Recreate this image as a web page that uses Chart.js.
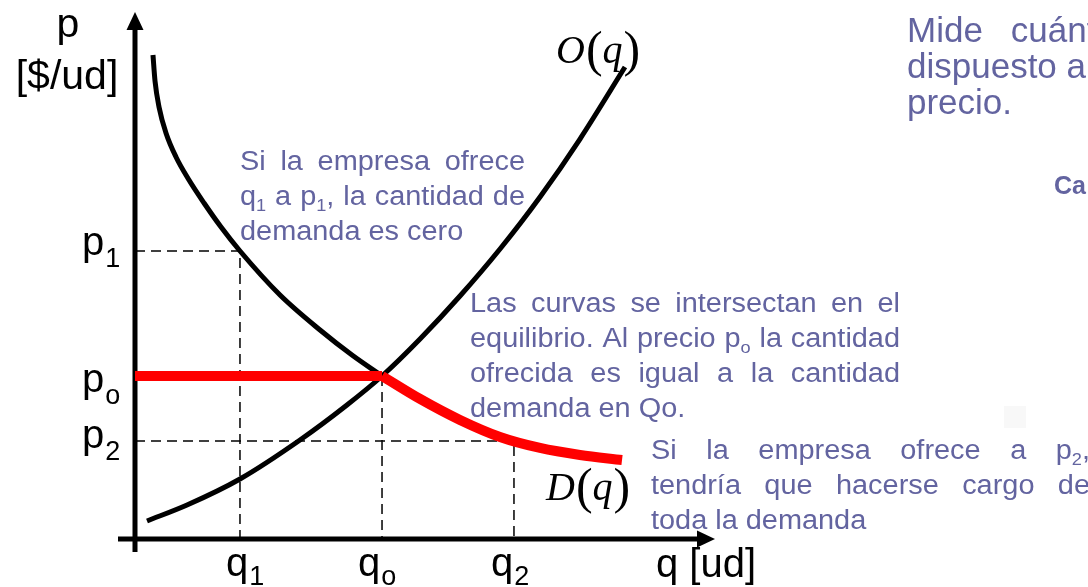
<!DOCTYPE html>
<html><head><meta charset="utf-8">
<script src="https://cdn.jsdelivr.net/npm/chart.js@4/dist/chart.umd.min.js"></script>
<style>html,body{margin:0;padding:0;background:#fff;overflow:hidden}#wrap{width:1088px;height:587px;position:relative}</style>
</head><body><div id="wrap"><canvas id="c"></canvas></div>
<script>
// ---- data (arbitrary units 0..10) ----
const levelQ = [1.810, 4.259, 6.534];        // q1, qo, q2
const levelP = [5.465, 3.093, 1.860];        // p1, po, p2
const levelQLabels = [['q','1'],['q','o'],['q','2']];
const levelPLabels = [['p','1'],['p','o'],['p','2']];
const supplyQ = [0.207,0.897,1.810,2.845,3.655,4.259,4.914,5.603,6.293,6.983,7.672,8.448];
const supplyP = [0.342,0.645,1.139,1.879,2.543,3.093,3.795,4.611,5.503,6.490,7.590,8.956];
const demandQ = [0.310,0.345,0.414,0.534,0.707,0.931,1.190,1.483,1.810,2.500,3.190,3.741,4.259];
const demandP = [9.184,8.691,8.197,7.704,7.249,6.812,6.376,5.920,5.465,4.630,3.966,3.491,3.093];
const demandRedQ = [4.259,4.914,5.603,6.293,6.983,7.672,8.397];
const demandRedP = [3.093,2.657,2.258,1.935,1.727,1.594,1.499];
const axisYLabel = ['p','[$/ud]'];
const axisXLabel = 'q [ud]';
const supplyName = 'O';
const demandName = 'D';
const note1 = ['Si la empresa ofrece','q_1 a p_1, la cantidad de','demanda es cero'];
const note2 = ['Las curvas se intersectan en el','equilibrio. Al precio p_o la cantidad','ofrecida es igual a la cantidad','demanda en Qo.'];
const note3 = ['Si la empresa ofrece a p_2,','tendría que hacerse cargo de','toda la demanda'];
const sideNote = ['Mide cuánto','dispuesto a','precio.'];
const sideHeading = 'Ca';

const pts = (xs, ys) => xs.map((x,i)=>({x, y: ys[i]}));
const SANS = '"Liberation Sans", Arial, sans-serif';
const SERIF = '"Liberation Serif", "Times New Roman", serif';
const NOTE = 'rgb(99,100,160)';

function parseWord(w){
  const runs=[]; let buf='';
  for(let i=0;i<w.length;i++){
    if(w[i]==='_'){ if(buf){runs.push({t:buf,s:false});buf='';} runs.push({t:w[i+1],s:true}); i++; }
    else buf+=w[i];
  }
  if(buf) runs.push({t:buf,s:false});
  return runs;
}
function font(size, weight){ return (weight||'normal')+' '+size+'px '+SANS; }
function runsWidth(ctx, runs, o){
  let w=0;
  for(const r of runs){ ctx.font = font(r.s?o.sub:o.size, o.weight); w += ctx.measureText(r.t).width*o.sx; }
  return w;
}
function drawLine(ctx, text, x0, base, o){
  const words = text.split(' ').map(parseWord);
  const widths = words.map(r=>runsWidth(ctx,r,o));
  ctx.font = font(o.size,o.weight);
  let gap = ctx.measureText(' ').width*o.sx;
  if(o.x1 && words.length>1){ const tot = widths.reduce((a,b)=>a+b,0); gap = (o.x1-x0-tot)/(words.length-1); }
  if(o.gap) gap = o.gap;
  let x=x0;
  ctx.fillStyle = o.color;
  words.forEach((runs)=>{
    for(const r of runs){
      ctx.font = font(r.s?o.sub:o.size, o.weight);
      ctx.save(); ctx.translate(x, base + (r.s?o.drop:0)); ctx.scale(o.sx,1);
      ctx.textBaseline='alphabetic'; ctx.textAlign='left';
      ctx.fillText(r.t,0,0); ctx.restore();
      x += ctx.measureText(r.t).width*o.sx;
    }
    x += gap;
  });
}
function drawBlock(ctx, lines, x0, x1, base0, lh, nJust, o){
  lines.forEach((l,i)=>drawLine(ctx,l,x0,base0+i*lh,Object.assign({},o,{x1: i<nJust?x1:null})));
}
function drawFunc(ctx, letter, x, base){
  ctx.fillStyle='#000'; ctx.textBaseline='alphabetic'; ctx.textAlign='left';
  ctx.font='italic 40px '+SERIF; ctx.fillText(letter,x,base); x+=ctx.measureText(letter).width+1;
  ctx.font='50px '+SERIF; ctx.fillText('(',x,base+3); x+=ctx.measureText('(').width;
  ctx.font='italic 40px '+SERIF; ctx.fillText('q',x,base); x+=ctx.measureText('q').width+1;
  ctx.font='50px '+SERIF; ctx.fillText(')',x,base+3);
}
function drawSubLabel(ctx, main, sub, x, base, drop){
  ctx.fillStyle='#000'; ctx.textBaseline='alphabetic'; ctx.textAlign='left';
  ctx.font='40px '+SANS; ctx.fillText(main,x,base); const w=ctx.measureText(main).width;
  ctx.font='27px '+SANS; ctx.fillText(sub,x+w+1,base+drop);
}

const pLabelDy = [4,16,7];
const qLabelDx = [-14,-24,-23];

const decor = {
  id:'decor',
  beforeDatasetsDraw(chart){
    const {ctx, chartArea:a, scales:{x:xs,y:ys}} = chart;
    const x0 = xs.getPixelForValue(0), y0 = ys.getPixelForValue(0);
    ctx.save();
    ctx.fillStyle='#f8f8f8'; ctx.fillRect(1004,406,22,22);
    ctx.strokeStyle='#000'; ctx.fillStyle='#000'; ctx.lineWidth=5; ctx.lineCap='butt';
    ctx.beginPath(); ctx.moveTo(x0, y0+13); ctx.lineTo(x0, a.top+14); ctx.stroke();
    ctx.beginPath(); ctx.moveTo(x0, a.top); ctx.lineTo(x0-8.5, a.top+18); ctx.lineTo(x0+8.5, a.top+18); ctx.closePath(); ctx.fill();
    ctx.beginPath(); ctx.moveTo(x0-17, y0); ctx.lineTo(a.right-14, y0); ctx.stroke();
    ctx.beginPath(); ctx.moveTo(a.right, y0); ctx.lineTo(a.right-18, y0-8.5); ctx.lineTo(a.right-18, y0+8.5); ctx.closePath(); ctx.fill();
    ctx.restore();
  },
  afterDatasetsDraw(chart){
    const {ctx, scales:{x:xs,y:ys}} = chart;
    const x0 = xs.getPixelForValue(0), y0 = ys.getPixelForValue(0);
    ctx.save();
    ctx.fillStyle='#000'; ctx.textAlign='center'; ctx.textBaseline='alphabetic';
    ctx.font='41px '+SANS; ctx.fillText(axisYLabel[0], 68, 37); ctx.fillText(axisYLabel[1], 67, 89);
    ctx.textAlign='left'; ctx.font='40px '+SANS; ctx.fillText(axisXLabel, 656, y0+38);
    levelP.forEach((p,i)=>drawSubLabel(ctx, levelPLabels[i][0], levelPLabels[i][1], x0-53, ys.getPixelForValue(p)+pLabelDy[i], 12));
    levelQ.forEach((q,i)=>drawSubLabel(ctx, levelQLabels[i][0], levelQLabels[i][1], xs.getPixelForValue(q)+qLabelDx[i], y0+37, 9));
    drawFunc(ctx, supplyName, 556, 63);
    drawFunc(ctx, demandName, 546, 500);
    const o = {size:27, sub:17, drop:6, sx:1.07, color:NOTE};
    drawBlock(ctx, note1, 240, 525, 170, 35, 2, o);
    drawBlock(ctx, note2, 470, 900, 312, 35, 3, o);
    drawBlock(ctx, note3, 651, 1090, 459, 35, 2, o);
    const s = {size:35, sub:22, drop:7, sx:1.0, color:NOTE};
    drawLine(ctx, sideNote[0], 907, 42, Object.assign({}, s, {gap:28}));
    drawLine(ctx, sideNote[1], 907, 78, s);
    drawLine(ctx, sideNote[2], 907, 114, s);
    drawLine(ctx, sideHeading, 1054, 194, {size:25, sub:16, drop:5, sx:1, color:NOTE, weight:'bold'});
    ctx.restore();
  }
};

const dash = {borderColor:'#000', borderWidth:1.5, borderDash:[10,6], pointRadius:0, showLine:true, tension:0, order:3};
const curve = {showLine:true, pointRadius:0, cubicInterpolationMode:'monotone', borderJoinStyle:'round'};
new Chart(document.getElementById('c'), {
  type:'scatter',
  data:{ datasets:[
    {data:[{x:0,y:levelP[1]},{x:levelQ[1],y:levelP[1]}], borderColor:'#ff0000', borderWidth:10, showLine:true, pointRadius:0, order:0},
    Object.assign({data:pts(demandRedQ,demandRedP), borderColor:'#ff0000', borderWidth:10, order:0}, curve),
    Object.assign({data:pts(demandQ,demandP), borderColor:'#000', borderWidth:5, order:1}, curve),
    Object.assign({data:pts(supplyQ,supplyP), borderColor:'#000', borderWidth:5, order:1}, curve),
    Object.assign({data:[{x:0,y:levelP[0]},{x:levelQ[0],y:levelP[0]},{x:levelQ[0],y:0}]}, dash),
    Object.assign({data:[{x:levelQ[1],y:levelP[1]},{x:levelQ[1],y:0}]}, dash),
    Object.assign({data:[{x:0,y:levelP[2]},{x:levelQ[2],y:levelP[2]},{x:levelQ[2],y:0}]}, dash)
  ]},
  options:{
    responsive:true, maintainAspectRatio:false, animation:false, events:[],
    layout:{padding:{left:135, top:12, right:373, bottom:48}},
    scales:{ x:{type:'linear', min:0, max:10, display:false}, y:{type:'linear', min:0, max:10, display:false} },
    plugins:{legend:{display:false}, tooltip:{enabled:false}}
  },
  plugins:[decor]
});
</script></body></html>
